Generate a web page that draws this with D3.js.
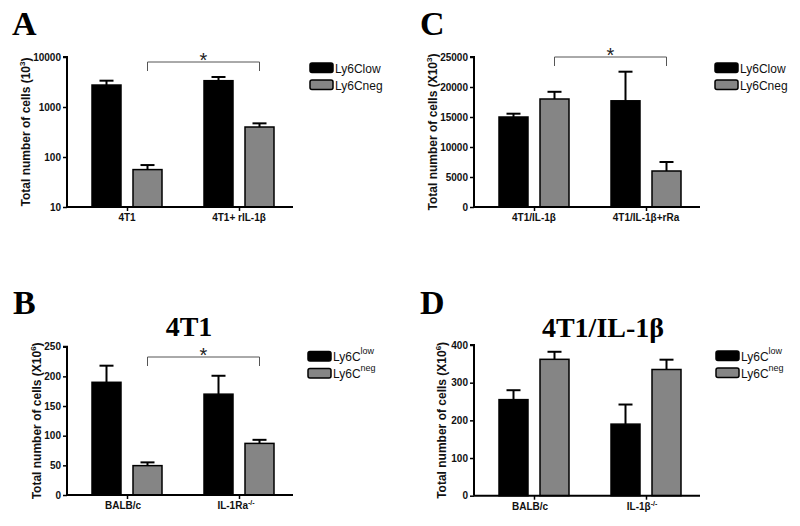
<!DOCTYPE html>
<html><head><meta charset="utf-8">
<script src="https://cdn.jsdelivr.net/npm/d3@7"></script>
<style>body{margin:0;background:#fff}svg{display:block}</style>
</head><body>
<svg id="c" width="800" height="526"></svg>
<script>
// ---- data ----
const series = ["Ly6Clow", "Ly6Cneg"];
const groupsA = ["4T1", "4T1+ rIL-1β"];
const lowA = [2750, 3360], lowErrA = [610, 620];
const negA = [56, 398], negErrA = [13, 73];
const ticksA = [10, 100, 1000, 10000];

const groupsC = ["4T1/IL-1β", "4T1/IL-1β+rRa"];
const lowC = [15000, 17700], lowErrC = [550, 4850];
const negC = [18000, 6000], negErrC = [1200, 1500];
const ticksC = [0, 5000, 10000, 15000, 20000, 25000];

const groupsB = ["BALB/c", "IL-1Ra"];
const lowB = [190, 170], lowErrB = [28, 31];
const negB = [49.5, 87], negErrB = [5.5, 6];
const ticksB = [0, 50, 100, 150, 200, 250];

const groupsD = ["BALB/c", "IL-1β"];
const lowD = [255, 190], lowErrD = [25, 52];
const negD = [362, 335], negErrD = [20, 26];
const ticksD = [0, 100, 200, 300, 400];

const colors = {Ly6Clow: "#000000", Ly6Cneg: "#858585"};
const svg = d3.select("#c");
const SANS = "Arial, 'Liberation Sans', sans-serif";
const SERIF = "'Times New Roman', 'Liberation Serif', serif";

function panel(o) {
  const g = svg.append("g");
  const y = o.log ? d3.scaleLog().domain(o.domain).range([o.y0, o.y1])
                  : d3.scaleLinear().domain(o.domain).range([o.y0, o.y1]);
  const x = d3.scalePoint().domain(o.groups).range([o.ax + 60, o.ax + 172]);
  const sub = d3.scaleBand().domain(series).range([-35, 35]).paddingInner(12 / 41);
  const rows = [];
  o.groups.forEach((gr, i) => {
    rows.push({g: gr, s: "Ly6Clow", v: o.low[i], e: o.lowErr[i]});
    rows.push({g: gr, s: "Ly6Cneg", v: o.neg[i], e: o.negErr[i]});
  });
  const base = o.log ? o.domain[0] : 0;
  // error bars
  rows.forEach(d => {
    const cx = x(d.g) + sub(d.s) + sub.bandwidth() / 2;
    g.append("line").attr("x1", cx).attr("x2", cx).attr("y1", y(d.v)).attr("y2", y(d.v + d.e))
      .attr("stroke", "#000").attr("stroke-width", 2);
    g.append("line").attr("x1", cx - 7).attr("x2", cx + 7).attr("y1", y(d.v + d.e)).attr("y2", y(d.v + d.e))
      .attr("stroke", "#000").attr("stroke-width", 2);
  });
  g.selectAll("rect.bar").data(rows).enter().append("rect")
    .attr("x", d => x(d.g) + sub(d.s))
    .attr("width", sub.bandwidth())
    .attr("y", d => y(d.v))
    .attr("height", d => y(base) - y(d.v))
    .attr("fill", d => colors[d.s])
    .attr("stroke", "#000").attr("stroke-width", 1.5);
  // y axis
  const yAxis = d3.axisLeft(y).tickValues(o.ticks).tickSize(4).tickPadding(2)
    .tickFormat(d => String(d));
  const ya = g.append("g").attr("transform", `translate(${o.ax},0)`).call(yAxis);
  ya.select(".domain").attr("stroke-width", 2).attr("d", `M-4,${o.y1}H0V${o.y0}`);
  ya.selectAll(".tick line").attr("stroke-width", 1.5);
  ya.selectAll("text").attr("font-family", SANS).attr("font-weight", "bold").attr("font-size", 10).attr("fill", "#111");
  // x axis
  const xa = g.append("g").attr("transform", `translate(0,${o.y0})`)
    .call(d3.axisBottom(x).tickSize(4).tickFormat(""));
  xa.select(".domain").attr("stroke-width", 2).attr("d", `M${o.ax},0H${o.ax + 226}`);
  xa.selectAll(".tick line").attr("stroke-width", 1.5);
  // x labels
  o.groups.forEach((gr, i) => {
    const t = g.append("text").attr("x", x(gr) + (o.xoff ? o.xoff[i] : 0)).attr("y", o.y0 + 14)
      .attr("text-anchor", "middle").attr("font-family", SANS).attr("font-weight", "bold")
      .attr("font-size", 10).attr("fill", "#111");
    t.append("tspan").text(gr);
    if (o.xsup && o.xsup[i]) t.append("tspan").attr("dy", -4).attr("font-size", 7).text(o.xsup[i]);
  });
  // y title
  const tt = g.append("text").attr("transform", `translate(${o.tx},${(o.y0 + o.y1) / 2}) rotate(-90)`)
    .attr("text-anchor", "middle").attr("font-family", SANS).attr("font-weight", "bold")
    .attr("font-size", 12).attr("fill", "#111");
  tt.append("tspan").text(o.ytitle);
  tt.append("tspan").attr("dy", -5).attr("font-size", 8).text(o.ysup);
  tt.append("tspan").attr("dy", 5).text(")");
  // significance bracket
  if (o.sig) {
    const x1 = x(o.groups[0]) + sub("Ly6Cneg") + sub.bandwidth() / 2;
    const x2 = x(o.groups[1]) + sub("Ly6Cneg") + sub.bandwidth() / 2;
    const by = o.sig;
    g.append("path").attr("d", `M${x1},${by + 9}V${by}H${x2}V${by + 9}`)
      .attr("fill", "none").attr("stroke", "#555").attr("stroke-width", 1);
    g.append("text").attr("x", (x1 + x2) / 2).attr("y", by + 4.5).attr("text-anchor", "middle")
      .attr("font-family", SANS).attr("font-size", 20).attr("fill", "#222").text("*");
  }
  // legend
  series.forEach((s, i) => {
    const ly = o.ly + i * 17;
    g.append("rect").attr("x", o.lx).attr("y", ly).attr("width", 23).attr("height", 9.5)
      .attr("rx", 2).attr("fill", colors[s]).attr("stroke", "#000").attr("stroke-width", 1.5);
    const t = g.append("text").attr("x", o.lx + 25).attr("y", ly + 9.5)
      .attr("font-family", SANS).attr("font-size", 12).attr("fill", "#111");
    if (o.supLegend) {
      t.append("tspan").text("Ly6C");
      t.append("tspan").attr("dy", -7).attr("font-size", 9).text(s === "Ly6Clow" ? "low" : "neg");
    } else t.text(s);
  });
  // panel letter
  svg.append("text").attr("x", o.lx0).attr("y", o.ly0).attr("font-family", SERIF)
    .attr("font-weight", "bold").attr("font-size", 34).attr("fill", "#000").text(o.letter);
  if (o.title) svg.append("text").attr("x", o.titleX).attr("y", o.titleY).attr("text-anchor", "middle")
    .attr("font-family", SERIF).attr("font-weight", "bold").attr("font-size", 28).attr("fill", "#000").text(o.title);
}

panel({letter: "A", lx0: 12, ly0: 35, ax: 67, y0: 207, y1: 57, log: true, domain: [10, 10000],
  ticks: ticksA, groups: groupsA, low: lowA, lowErr: lowErrA, neg: negA, negErr: negErrA,
  tx: 30, ytitle: "Total number of cells (10", ysup: "3", sig: 62, lx: 310, ly: 63});
panel({letter: "C", lx0: 420, ly0: 35, ax: 474, y0: 207, y1: 57, log: false, domain: [0, 25000],
  ticks: ticksC, groups: groupsC, low: lowC, lowErr: lowErrC, neg: negC, negErr: negErrC,
  tx: 437, ytitle: "Total number of cells (X10", ysup: "3", sig: 57, lx: 715, ly: 63});
panel({letter: "B", lx0: 13, ly0: 314, ax: 67, y0: 495, y1: 346.7, log: false, domain: [0, 250],
  ticks: ticksB, groups: groupsB, low: lowB, lowErr: lowErrB, neg: negB, negErr: negErrB,
  xsup: ["", "-/-"], xoff: [-4, -3],
  tx: 41, ytitle: "Total number of cells (X10", ysup: "6", sig: 357, lx: 308, ly: 351.5, supLegend: true,
  title: "4T1", titleX: 189, titleY: 336});
panel({letter: "D", lx0: 420, ly0: 314, ax: 474, y0: 495.7, y1: 345, log: false, domain: [0, 400],
  ticks: ticksD, groups: groupsD, low: lowD, lowErr: lowErrD, neg: negD, negErr: negErrD,
  xsup: ["", "-/-"], xoff: [-4, -4],
  tx: 446, ytitle: "Total number of cells (X10", ysup: "6", sig: null, lx: 716, ly: 351, supLegend: true,
  title: "4T1/IL-1β", titleX: 603, titleY: 337});
</script>
</body></html>
